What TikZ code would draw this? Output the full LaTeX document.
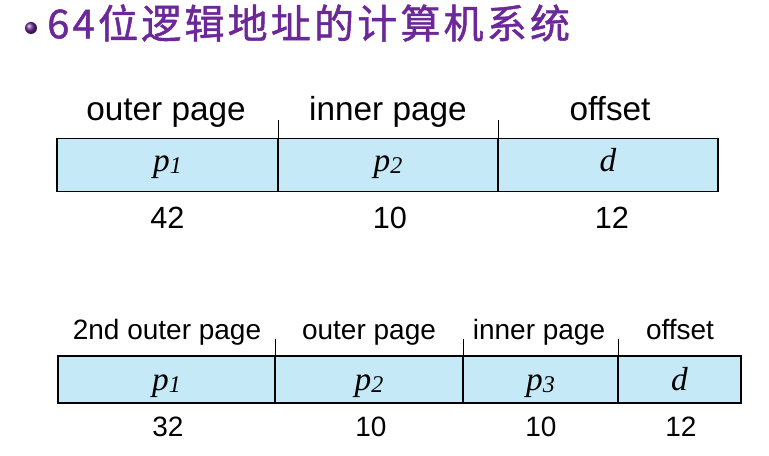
\documentclass[tikz,border=0pt]{standalone}
\usepackage{fontspec}
\setmainfont{Liberation Sans}
\newfontfamily\cjk[LetterSpace=8,FakeBold=1.2]{Noto Sans CJK SC}
\newfontfamily\varfont{Liberation Serif}
\usetikzlibrary{positioning}
\definecolor{cellblue}{RGB}{198,233,248}
\definecolor{titlepurple}{RGB}{108,40,152}
\newcommand{\pvar}[1]{{\varfont\itshape p\raisebox{-1.5pt}{\fontsize{18}{18}\selectfont #1}}}
\newcommand{\dvar}{{\varfont\itshape d}}

\begin{document}
\begin{tikzpicture}[x=0.75pt,y=-0.75pt]
  \tikzstyle{cell}=[draw,line width=1.2pt,fill=cellblue,inner sep=0pt,anchor=base,font=\fontsize{25}{25}\selectfont]
  \tikzstyle{topcell}=[cell,text height=25.1pt,text depth=14.6pt]
  \tikzstyle{botcell}=[cell,text height=26.2pt,text depth=9pt]
  \tikzstyle{lab}=[inner sep=0pt,anchor=base,font=\fontsize{25}{25}\selectfont]
  \tikzstyle{num}=[inner sep=0pt,anchor=base,font=\fontsize{23}{23}\selectfont]
  \tikzstyle{slab}=[inner sep=0pt,anchor=base,font=\fontsize{21}{21}\selectfont]
  \tikzstyle{snum}=[inner sep=0pt,anchor=base,font=\fontsize{21}{21}\selectfont]
  \useasboundingbox (0,0) rectangle (769,456);

  % title
  \node[circle,ball color=titlepurple,minimum size=9pt,inner sep=0pt] (bullet) at (31,28) {};
  \node[anchor=west,inner sep=0pt,text=titlepurple,font=\cjk\fontsize{30}{30}\selectfont] (title) at (47,23) {64位逻辑地址的计算机系统};

  % two-level paging
  \node[topcell,minimum width=165.75pt] (A1) at (167.5,172) {\pvar{1}};
  \node[topcell,minimum width=165pt] (A2) at (388,172) {\pvar{2}};
  \node[topcell,minimum width=165pt] (A3) at (608,172) {\dvar};
  \draw[line width=0.8pt] (A1.north east) -- ++(0,-18);
  \draw[line width=0.8pt] (A2.north east) -- ++(0,-18);
  \node[lab] (A1t) at (166,120.5) {outer page};
  \node[lab] (A2t) at (388,120.5) {inner page};
  \node[lab] (A3t) at (610,120.5) {offset};
  \node[num] (A1b) at (167.5,229) {42};
  \node[num] (A2b) at (390,229) {10};
  \node[num] (A3b) at (612,229) {12};

  % three-level paging
  \node[botcell,minimum width=162.75pt] (B1) at (166.5,391) {\pvar{1}};
  \node[botcell,minimum width=141pt] (B2) at (369,391) {\pvar{2}};
  \node[botcell,minimum width=116.25pt] (B3) at (540.5,391) {\pvar{3}};
  \node[botcell,minimum width=92.25pt] (B4) at (679.5,391) {\dvar};
  \draw[line width=0.8pt] (B1.north east) -- ++(0,-16);
  \draw[line width=0.8pt] (B2.north east) -- ++(0,-16);
  \draw[line width=0.8pt] (B3.north east) -- ++(0,-16);
  \node[slab] (B1t) at (167,340) {2nd outer page};
  \node[slab] (B2t) at (369,340) {outer page};
  \node[slab] (B3t) at (539,340) {inner page};
  \node[slab] (B4t) at (680,340) {offset};
  \node[snum] (B1b) at (168,437) {32};
  \node[snum] (B2b) at (371,437) {10};
  \node[snum] (B3b) at (541,437) {10};
  \node[snum] (B4b) at (681,437) {12};
\end{tikzpicture}
\end{document}
